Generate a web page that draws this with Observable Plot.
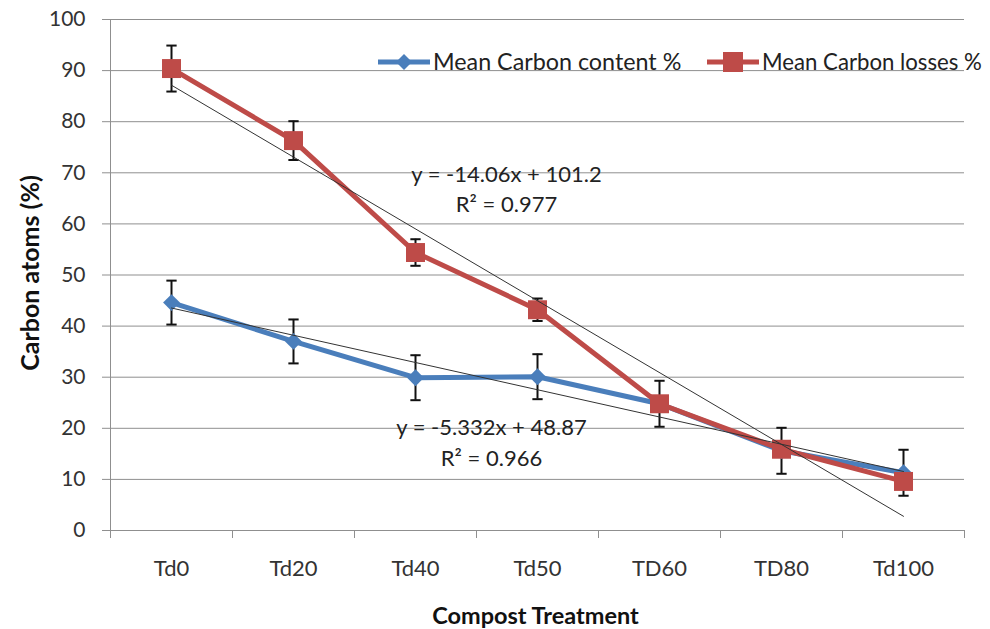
<!DOCTYPE html>
<html><head><meta charset="utf-8">
<script src="https://cdn.jsdelivr.net/npm/d3@7"></script>
<script src="https://cdn.jsdelivr.net/npm/@observablehq/plot@0.6"></script>
<style>
body{margin:0;background:#fff;}
#wrap{position:relative;width:990px;height:629px;font-family:Lato,sans-serif;}
.leg{position:absolute;display:flex;align-items:center;color:#222;white-space:nowrap;line-height:1;}
.leg svg{margin-right:3px;}
</style></head><body><div id="wrap"></div>
<script>
const categories = ["Td0", "Td20", "Td40", "Td50", "TD60", "TD80", "Td100"];
const carbonContent = [44.6, 37.0, 29.9, 30.1, 24.8, 15.6, 11.3];
const carbonContentErr = [4.3, 4.3, 4.4, 4.4, 4.5, 4.5, 4.5];
const carbonLosses = [90.4, 76.3, 54.4, 43.2, 24.8, 15.9, 9.6];
const carbonLossesErr = [4.5, 3.8, 2.6, 2.2, null, null, null];
const seriesNames = ["Mean Carbon content %", "Mean Carbon losses %"];
const trendContent = {slope: -5.332, intercept: 48.87, eq: "y = -5.332x + 48.87", r2: "R² = 0.966"};
const trendLosses = {slope: -14.06, intercept: 101.2, eq: "y = -14.06x + 101.2", r2: "R² = 0.977"};
const yTicks = d3.range(0, 101, 10);
const xTitle = "Compost Treatment";
const yTitle = "Carbon atoms (%)";

const blue = "#4A7EBB", red = "#BE4B48";
const toRows = (vals, errs) => vals.map((v, i) => ({x: i + 1, v, e: errs[i]}));
const content = toRows(carbonContent, carbonContentErr);
const losses = toRows(carbonLosses, carbonLossesErr);
const errRows = [...content, ...losses].filter(d => d.e != null);
const trendLine = t => [1, categories.length].map(x => ({x, y: t.intercept + t.slope * x}));
const capSymbol = {draw(ctx, size) { const w = Math.sqrt(size) / 2; ctx.moveTo(-w, 0); ctx.lineTo(w, 0); }};
const eqText = {frameAnchor: "top-left", textAnchor: "middle", fontSize: 22, fill: "#222"};

const chart = Plot.plot({
  width: 990, height: 629,
  marginLeft: 110, marginRight: 26, marginTop: 19, marginBottom: 99,
  style: {fontFamily: "Lato, sans-serif", color: "#333", background: "#fff"},
  x: {type: "linear", domain: [0.5, categories.length + 0.5]},
  y: {domain: [0, 100]},
  marks: [
    Plot.gridY(yTicks.filter(d => d > 0), {stroke: "#8f8f8f", strokeOpacity: 1, strokeWidth: 1}),
    Plot.ruleY([0], {stroke: "#8f8f8f", strokeWidth: 1}),
    Plot.ruleX([0.5], {stroke: "#8f8f8f", strokeWidth: 1}),
    Plot.axisY({ticks: yTicks, tickSize: 8, tickPadding: 17, stroke: "#8f8f8f", fill: "#333", fontSize: 21, label: null}),
    Plot.axisX({ticks: d3.range(0.5, categories.length + 1, 1), tickSize: 8, tickFormat: () => "", stroke: "#8f8f8f", label: null}),
    Plot.axisX({ticks: d3.range(1, categories.length + 1), tickSize: 0, tickPadding: 30, tickFormat: d => categories[d - 1], fill: "#333", fontSize: 22, label: null}),
    // error bars
    Plot.ruleX(errRows, {x: "x", y1: d => d.v - d.e, y2: d => d.v + d.e, stroke: "#111", strokeWidth: 2}),
    Plot.dot(errRows, {x: "x", y: d => d.v + d.e, symbol: capSymbol, r: 5.8, fill: "none", stroke: "#111", strokeWidth: 2}),
    Plot.dot(errRows, {x: "x", y: d => d.v - d.e, symbol: capSymbol, r: 5.8, fill: "none", stroke: "#111", strokeWidth: 2}),
    // series
    Plot.line(content, {x: "x", y: "v", stroke: blue, strokeWidth: 5}),
    Plot.dot(content, {x: "x", y: "v", symbol: "diamond2", r: 7.6, fill: blue}),
    Plot.line(losses, {x: "x", y: "v", stroke: red, strokeWidth: 5}),
    Plot.dot(losses, {x: "x", y: "v", symbol: "square", r: 10.7, fill: red}),
    // trendlines
    Plot.line(trendLine(trendContent), {x: "x", y: "y", stroke: "#333", strokeWidth: 1}),
    Plot.line(trendLine(trendLosses), {x: "x", y: "y", stroke: "#333", strokeWidth: 1}),
    Plot.text([trendLosses.eq], {...eqText, dx: 396, dy: 147}),
    Plot.text([trendLosses.r2], {...eqText, dx: 396, dy: 177}),
    Plot.text([trendContent.eq], {...eqText, dx: 381, dy: 400}),
    Plot.text([trendContent.r2], {...eqText, dx: 381, dy: 431}),
    // titles
    Plot.text([yTitle], {frameAnchor: "left", textAnchor: "middle", rotate: -90, dx: -80, dy: -2, fontSize: 25, fontWeight: "bold", fill: "#111"}),
    Plot.text([xTitle], {frameAnchor: "bottom", lineAnchor: "middle", dx: -2, dy: 86, fontSize: 23.5, fontWeight: "bold", fill: "#111"})
  ]
});
const wrap = document.getElementById("wrap");
wrap.appendChild(chart);

const legendItems = [
  {name: seriesNames[0], color: blue, marker: "diamond", left: 378, size: 23.3},
  {name: seriesNames[1], color: red, marker: "square", left: 707, size: 22.2}
];
for (const it of legendItems) {
  const div = document.createElement("div");
  div.className = "leg";
  div.style.left = it.left + "px";
  div.style.top = "50px";
  div.style.fontSize = it.size + "px";
  const m = it.marker === "diamond"
    ? `<path d="M26,4 L34,12 L26,20 L18,12 Z" fill="${it.color}"/>`
    : `<rect x="16" y="2" width="20" height="20" fill="${it.color}"/>`;
  div.innerHTML = `<svg width="52" height="24"><line x1="0" x2="52" y1="12" y2="12" stroke="${it.color}" stroke-width="5"/>${m}</svg><span>${it.name}</span>`;
  wrap.appendChild(div);
}
</script></body></html>
